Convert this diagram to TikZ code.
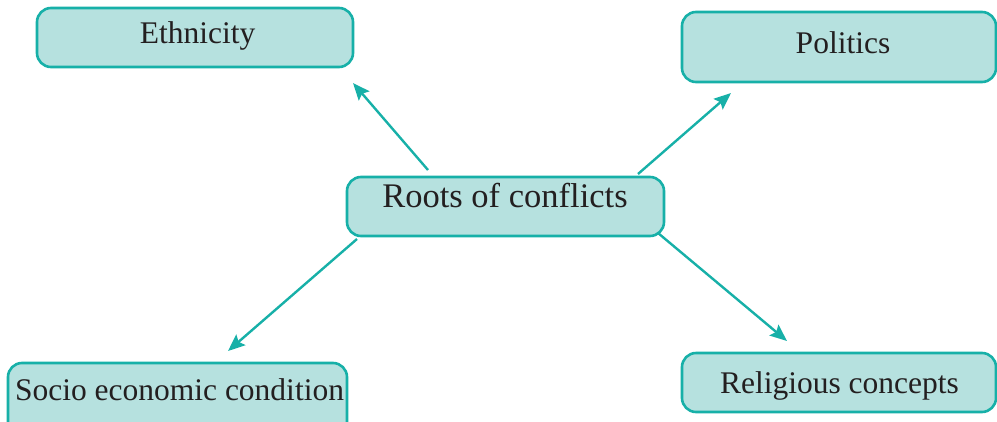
\documentclass[tikz,border=0pt]{standalone}
\usepackage{fontspec}
\setmainfont{Liberation Serif}
\usetikzlibrary{arrows.meta}
\definecolor{boxfill}{HTML}{B6E1DF}
\definecolor{teal}{HTML}{17B0A8}
\definecolor{ink}{HTML}{231F20}
\tikzset{
  box/.style={draw=teal, fill=boxfill, line width=2.6pt, rounded corners=14pt},
  lbl/.style={anchor=base, inner sep=0pt, text=ink, font=\fontsize{31.5}{36}\selectfont},
  mainlbl/.style={anchor=base, inner sep=0pt, text=ink, font=\fontsize{34.5}{40}\selectfont},
  conn/.style={draw=teal, line width=2.4pt, -{Stealth[length=17pt,width=14pt,inset=3pt]}}
}
\begin{document}
\begin{tikzpicture}[x=1pt,y=-1pt]
\useasboundingbox (0,0) rectangle (997,421);
% boxes
\draw[box] (37,8) rectangle (353,67);
\draw[box] (682,12) rectangle (996,82);
\draw[box] (347,177) rectangle (664,236);
\draw[box] (8,363) rectangle (347,440);
\draw[box] (682,353) rectangle (996,412);
% labels
\node[lbl] (eth) at (197.5,43) {Ethnicity};
\node[lbl] (pol) at (843,53) {Politics};
\node[mainlbl] (root) at (505,207) {Roots of conflicts};
\node[lbl] (soc) at (179.5,400) {Socio economic condition};
\node[lbl] (rel) at (839.5,393) {Religious concepts};
% connector ends
\coordinate (a1) at (428,170);
\coordinate (e1) at (353,83);
\coordinate (a2) at (638,174);
\coordinate (e2) at (731,93);
\coordinate (a3) at (357,239);
\coordinate (e3) at (228,351);
\coordinate (a4) at (658,233);
\coordinate (e4) at (787,341);
\draw[conn] (a1) -- (e1);
\draw[conn] (a2) -- (e2);
\draw[conn] (a3) -- (e3);
\draw[conn] (a4) -- (e4);
\end{tikzpicture}
\end{document}
